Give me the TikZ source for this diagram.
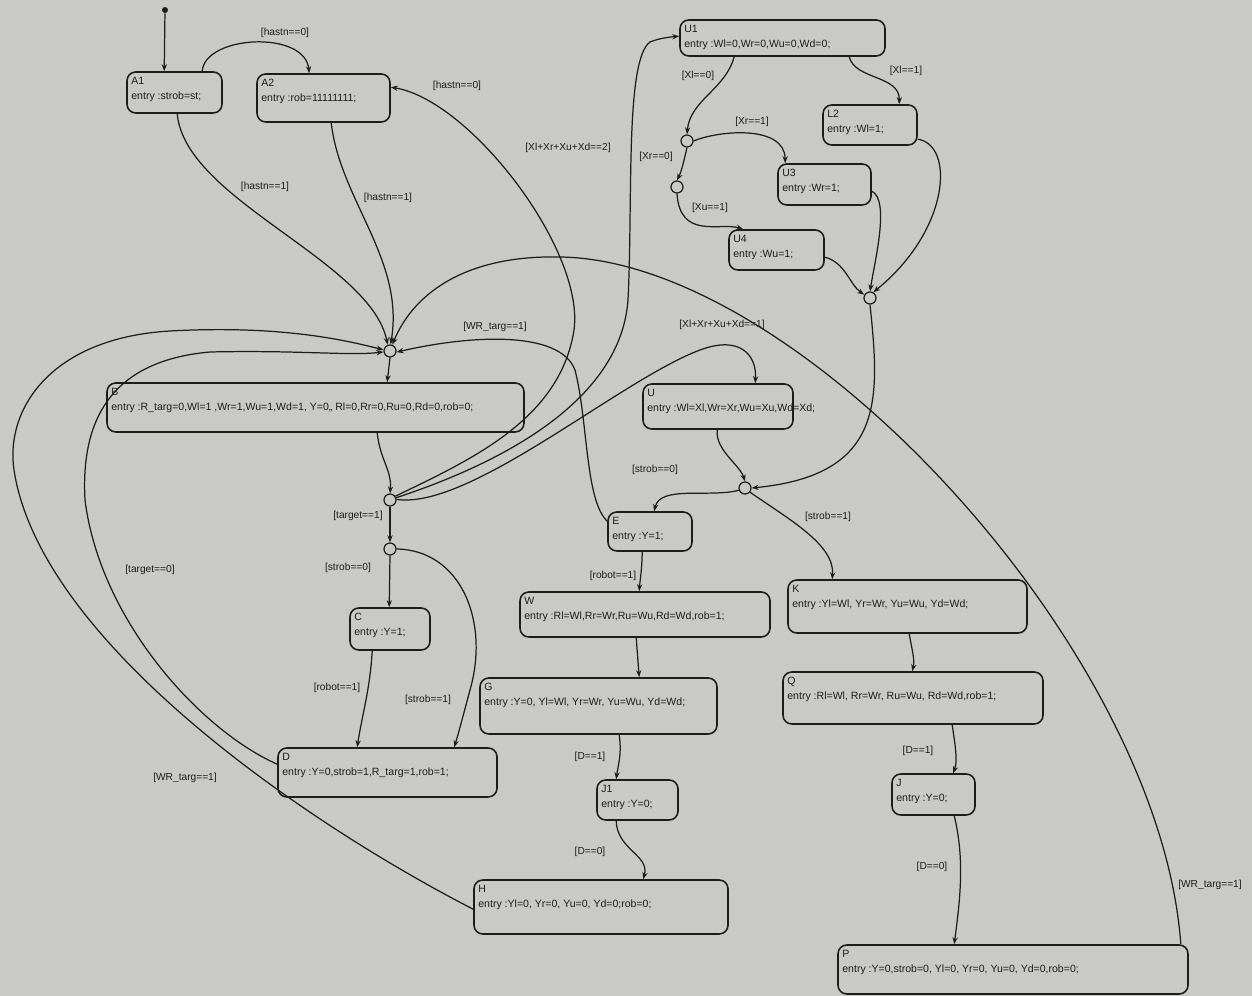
\documentclass[tikz,border=0pt]{standalone}
\usepackage{fontspec}
\setmainfont{Liberation Sans}
\usetikzlibrary{arrows.meta,calc,fit}
\definecolor{bg}{HTML}{C9C9C7}
\definecolor{ink}{HTML}{1C1C1C}
\newcommand{\mkstate}[7]{%
  \coordinate (#1a) at (#2,#3);
  \coordinate (#1b) at (#4,#5);
  \node[statebox, fit=(#1a)(#1b)] (#1) {};
  \node[stxt, anchor=north west] (#1t) at ($(#1a)+(4,5)$) {#6\\#7};
}
\begin{document}
\begin{tikzpicture}[x=0.02cm,y=-0.02cm,
  statebox/.style={draw=ink, line width=0.9pt, rounded corners=5pt, inner sep=0pt},
  stxt/.style={font=\fontsize{6}{8.5}\selectfont, text=ink, inner sep=0pt, align=left},
  tr/.style={draw=ink, line width=0.7pt, -{Stealth[length=4pt,width=3pt]}},
  lbl/.style={font=\fontsize{5.8}{7}\selectfont, text=ink, inner sep=0.5pt},
  junc/.style={circle, draw=ink, line width=0.7pt, fill=bg, minimum size=0.24cm, inner sep=0pt},
  dot/.style={circle, fill=ink, minimum size=0.12cm, inner sep=0pt}]
\fill[bg] (0,0) rectangle (1252,996);
\useasboundingbox (0,0) rectangle (1252,996);

% states
\mkstate{A1}{127}{72}{222}{113}{A1}{entry :strob=st;}
\mkstate{A2}{257}{74}{390}{122}{A2}{entry :rob=11111111;}
\mkstate{U1}{680}{20}{885}{56}{U1}{entry :Wl=0,Wr=0,Wu=0,Wd=0;}
\mkstate{L2}{823}{105}{917}{145}{L2}{entry :Wl=1;}
\mkstate{U3}{778}{164}{871}{205}{U3}{entry :Wr=1;}
\mkstate{U4}{729}{230}{824}{270}{U4}{entry :Wu=1;}
\mkstate{B}{107}{383}{524}{432}{B}{entry :R\_targ=0,Wl=1 ,Wr=1,Wu=1,Wd=1, Y=0,, Rl=0,Rr=0,Ru=0,Rd=0,rob=0;}
\mkstate{U}{643}{384}{793}{429}{U}{entry :Wl=Xl,Wr=Xr,Wu=Xu,Wd=Xd;}
\mkstate{E}{608}{512}{692}{551}{E}{entry :Y=1;}
\mkstate{C}{350}{608}{430}{650}{C}{entry :Y=1;}
\mkstate{D}{278}{748}{497}{797}{D}{entry :Y=0,strob=1,R\_targ=1,rob=1;}
\mkstate{W}{520}{592}{770}{637}{W}{entry :Rl=Wl,Rr=Wr,Ru=Wu,Rd=Wd,rob=1;}
\mkstate{G}{480}{678}{717}{734}{G}{entry :Y=0, Yl=Wl, Yr=Wr, Yu=Wu, Yd=Wd;}
\mkstate{J1}{597}{780}{678}{820}{J1}{entry :Y=0;}
\mkstate{H}{474}{880}{728}{934}{H}{entry :Yl=0, Yr=0, Yu=0, Yd=0;rob=0;}
\mkstate{K}{788}{580}{1027}{633}{K}{entry :Yl=Wl, Yr=Wr, Yu=Wu, Yd=Wd;}
\mkstate{Q}{783}{672}{1043}{724}{Q}{entry :Rl=Wl, Rr=Wr, Ru=Wu, Rd=Wd,rob=1;}
\mkstate{J}{892}{774}{975}{815}{J}{entry :Y=0;}
\mkstate{P}{838}{945}{1188}{994}{P}{entry :Y=0,strob=0, Yl=0, Yr=0, Yu=0, Yd=0,rob=0;}

% junctions
\node[dot] (init) at (165,10) {};
\node[junc] (hub) at (390,351) {};
\node[junc] (J5) at (390,500) {};
\node[junc] (J6) at (390,549) {};
\node[junc] (Ja) at (687,141) {};
\node[junc] (Jb) at (677,187) {};
\node[junc] (J3) at (870,298) {};
\node[junc] (J4) at (745,488) {};

% transitions
\draw[tr] (init) -- ($(A1.north west)+(38,0)$);
\draw[tr] ($(A1.north west)+(76,0)$) .. controls (205,35) and (305,30) .. ($(A2.north west)+(53,0)$);
\draw[tr] ($(A1.south west)+(51,0)$) .. controls (185,200) and (370,260) .. (hub.110);
\draw[tr] ($(A2.south west)+(75,0)$) .. controls (340,200) and (405,260) .. (hub.85);
\draw[tr] (J5.35) .. controls (470,460) and (560,420) .. (574,330) .. controls (585,250) and (470,100) .. ($(A2.north east)+(0,14)$);
\draw[tr] ($(P.north east)+(-8,0)$) .. controls (1160,650) and (800,260) .. (560,257) .. controls (470,255) and (415,290) .. (hub.70);
\draw[tr] ($(E.north west)+(0,10)$) .. controls (585,500) and (588,420) .. (575,370) .. controls (560,330) and (470,335) .. (hub.-10);
\draw[tr] ($(H.north west)+(0,30)$) .. controls (300,820) and (40,640) .. (14,470) .. controls (5,410) and (50,338) .. (170,331) .. controls (280,325) and (345,340) .. (hub.170);
\draw[tr] ($(D.north west)+(0,17)$) .. controls (200,730) and (100,620) .. (85,500) .. controls (80,410) and (120,360) .. (210,352) .. controls (300,350) and (350,356) .. (hub.188);
\draw[tr] (hub.south) -- ($(B.north west)+(281,0)$);
\draw[tr] ($(B.south west)+(271,0)$) .. controls (380,460) and (392,470) .. (J5.north);
\draw[tr] (J5.south) -- (J6.north);
\draw[tr] (J6.south) -- ($(C.north west)+(40,0)$);
\draw[tr] (J6.east) .. controls (460,550) and (490,620) .. (470,690) .. controls (462,720) and (458,735) .. ($(D.north west)+(177,0)$);
\draw[tr] ($(C.south west)+(23,0)$) .. controls (370,690) and (362,715) .. ($(D.north west)+(80,0)$);
\draw[tr] (J5.20) .. controls (480,470) and (620,410) .. (628,300) .. controls (633,200) and (625,60) .. (650,42) .. controls (660,38) and (670,37) .. ($(U1.north west)+(0,17)$);
\draw[tr] (J5.5) .. controls (470,510) and (620,380) .. (700,350) .. controls (740,335) and (757,355) .. ($(U.north west)+(113,0)$);
\draw[tr] ($(U1.south west)+(55,0)$) .. controls (725,90) and (690,100) .. (Ja.north);
\draw[tr] ($(U1.south west)+(170,0)$) .. controls (855,80) and (900,75) .. ($(L2.north west)+(77,0)$);
\draw[tr] (Ja.east) .. controls (720,130) and (785,125) .. ($(U3.north west)+(8,0)$);
\draw[tr] (Ja.south) .. controls (684,160) and (682,170) .. (Jb.north);
\draw[tr] (Jb.south) .. controls (680,240) and (720,222) .. ($(U4.north west)+(15,0)$);
\draw[tr] ($(L2.north east)+(0,35)$) .. controls (955,145) and (950,230) .. (J3.60);
\draw[tr] ($(U3.north east)+(0,28)$) .. controls (890,200) and (875,260) .. (J3.north);
\draw[tr] ($(U4.north east)+(0,28)$) .. controls (845,262) and (850,285) .. (J3.150);
\draw[tr] (J3.south) .. controls (880,400) and (885,475) .. (J4.east);
\draw[tr] ($(U.south west)+(75,0)$) .. controls (715,450) and (740,465) .. (J4.north);
\draw[tr] (J4.200) .. controls (710,498) and (660,485) .. ($(E.north west)+(47,0)$);
\draw[tr] (J4.-40) .. controls (790,520) and (835,545) .. ($(K.north west)+(45,0)$);
\draw[tr] ($(E.south west)+(35,0)$) .. controls (642,570) and (640,580) .. ($(W.north west)+(120,0)$);
\draw[tr] ($(W.south west)+(117,0)$) -- ($(G.north west)+(160,0)$);
\draw[tr] ($(G.south west)+(140,0)$) .. controls (622,755) and (618,765) .. ($(J1.north west)+(20,0)$);
\draw[tr] ($(J1.south west)+(20,0)$) .. controls (617,850) and (650,855) .. ($(H.north west)+(170,0)$);
\draw[tr] ($(K.south west)+(122,0)$) .. controls (912,650) and (915,660) .. ($(Q.north west)+(130,0)$);
\draw[tr] ($(Q.south west)+(170,0)$) .. controls (955,745) and (958,760) .. ($(J.north west)+(62,0)$);
\draw[tr] ($(J.south west)+(63,0)$) .. controls (965,860) and (960,900) .. ($(P.north west)+(117,0)$);

% labels
\node[lbl] (l1) at (285,33) {[hastn==0]};
\node[lbl] (l2) at (457,86) {[hastn==0]};
\node[lbl] (l3) at (265,187) {[hastn==1]};
\node[lbl] (l4) at (388,198) {[hastn==1]};
\node[lbl] (l5) at (568,148) {[Xl+Xr+Xu+Xd==2]};
\node[lbl] (l6) at (698,76) {[Xl==0]};
\node[lbl] (l7) at (906,71) {[Xl==1]};
\node[lbl] (l8) at (752,122) {[Xr==1]};
\node[lbl] (l9) at (656,157) {[Xr==0]};
\node[lbl] (l10) at (710,208) {[Xu==1]};
\node[lbl] (l11) at (495,327) {[WR\_targ==1]};
\node[lbl] (l12) at (722,325) {[Xl+Xr+Xu+Xd==1]};
\node[lbl] (l13) at (655,470) {[strob==0]};
\node[lbl] (l14) at (828,517) {[strob==1]};
\node[lbl] (l15) at (358,516) {[target==1]};
\node[lbl] (l16) at (348,568) {[strob==0]};
\node[lbl] (l17) at (150,570) {[target==0]};
\node[lbl] (l18) at (337,688) {[robot==1]};
\node[lbl] (l19) at (428,700) {[strob==1]};
\node[lbl] (l20) at (185,778) {[WR\_targ==1]};
\node[lbl] (l21) at (613,576) {[robot==1]};
\node[lbl] (l22) at (590,757) {[D==1]};
\node[lbl] (l23) at (590,852) {[D==0]};
\node[lbl] (l24) at (918,751) {[D==1]};
\node[lbl] (l25) at (932,867) {[D==0]};
\node[lbl] (l26) at (1210,885) {[WR\_targ==1]};
\end{tikzpicture}
\end{document}
